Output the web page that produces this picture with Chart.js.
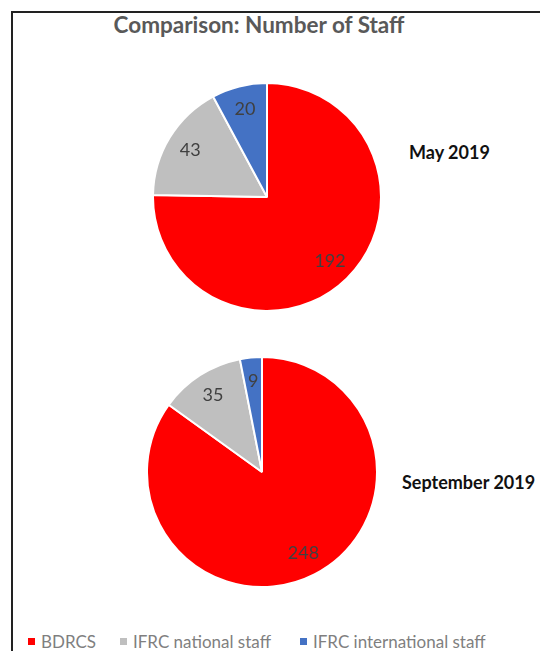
<!DOCTYPE html>
<html>
<head>
<meta charset="utf-8">
<script src="https://cdn.jsdelivr.net/npm/chart.js@4.4.1/dist/chart.umd.min.js"></script>
<style>
  html, body { margin: 0; padding: 0; background: #fff; }
  body { width: 540px; height: 651px; position: relative; overflow: hidden; font-family: Lato, 'Open Sans', sans-serif; }
  .frame { position: absolute; left: 11px; top: 11px; width: 560px; height: 680px; border: 2px solid #222; }
  .title { position: absolute; left: 0; width: 518px; top: 11px; line-height: 27px; text-align: center; font-weight: bold; font-size: 22.5px; color: #595959; }
  .side { position: absolute; font-weight: bold; font-size: 18px; line-height: 22px; color: #111; white-space: nowrap; }
  .pie { position: absolute; }
  .legend { position: absolute; top: 631px; left: 0; font-size: 17px; line-height: 21px; color: #7f7f7f; white-space: nowrap; }
  .legend span.item { position: absolute; top: 0; }
  .legend i { display: inline-block; width: 7px; height: 7px; margin-right: 6px; vertical-align: 3px; }
</style>
</head>
<body>
<div class="frame"></div>
<div class="title" id="title"></div>
<canvas class="pie" id="pieMay" width="230" height="230" style="left:152px; top:82px; width:230px; height:230px"></canvas>
<canvas class="pie" id="pieSep" width="232" height="232" style="left:146px; top:356px; width:232px; height:232px"></canvas>
<div class="side" id="labelMay" style="left:409px; top:141px"></div>
<div class="side" id="labelSep" style="left:402px; top:471px"></div>
<div class="legend" id="legend"></div>

<script>
const TITLE = 'Comparison: Number of Staff';
const categories = ['BDRCS', 'IFRC national staff', 'IFRC international staff'];
const colors = ['#FF0000', '#BFBFBF', '#4472C4'];
const periods = ['May 2019', 'September 2019'];
const staffMay = [192, 43, 20];
const staffSep = [248, 35, 9];

document.getElementById('title').textContent = TITLE;
document.getElementById('labelMay').textContent = periods[0];
document.getElementById('labelSep').textContent = periods[1];

// legend built from the category list
const legendX = [28, 120, 300];
const legendEl = document.getElementById('legend');
categories.forEach((c, i) => {
  const s = document.createElement('span');
  s.className = 'item';
  s.style.left = legendX[i] + 'px';
  s.innerHTML = `<i style="background:${colors[i]}"></i>${c}`;
  legendEl.appendChild(s);
});

// value labels inside slices (no datalabels plugin offline)
const sliceLabels = {
  id: 'sliceLabels',
  afterDatasetsDraw(chart) {
    const { ctx } = chart;
    const meta = chart.getDatasetMeta(0);
    const values = chart.data.datasets[0].data;
    ctx.save();
    ctx.font = '18px Lato, "Open Sans", sans-serif';
    ctx.fillStyle = '#404040';
    ctx.textAlign = 'center';
    ctx.textBaseline = 'middle';
    meta.data.forEach((arc, i) => {
      const { x, y, startAngle, endAngle, outerRadius } = arc.getProps(['x', 'y', 'startAngle', 'endAngle', 'outerRadius'], true);
      const mid = (startAngle + endAngle) / 2;
      const r = outerRadius * 0.79;
      ctx.fillText(String(values[i]), x + Math.cos(mid) * r, y + Math.sin(mid) * r);
    });
    ctx.restore();
  },
};

function makePie(canvasId, values) {
  return new Chart(document.getElementById(canvasId), {
    type: 'pie',
    data: {
      labels: categories,
      datasets: [{
        data: values,
        backgroundColor: colors,
        borderColor: '#ffffff',
        borderWidth: 2,
      }],
    },
    options: {
      responsive: false,
      animation: false,
      events: [],
      layout: { padding: 0 },
      plugins: {
        legend: { display: false },
        tooltip: { enabled: false },
        title: { display: false },
      },
    },
    plugins: [sliceLabels],
  });
}

makePie('pieMay', staffMay);
makePie('pieSep', staffSep);
</script>
</body>
</html>
